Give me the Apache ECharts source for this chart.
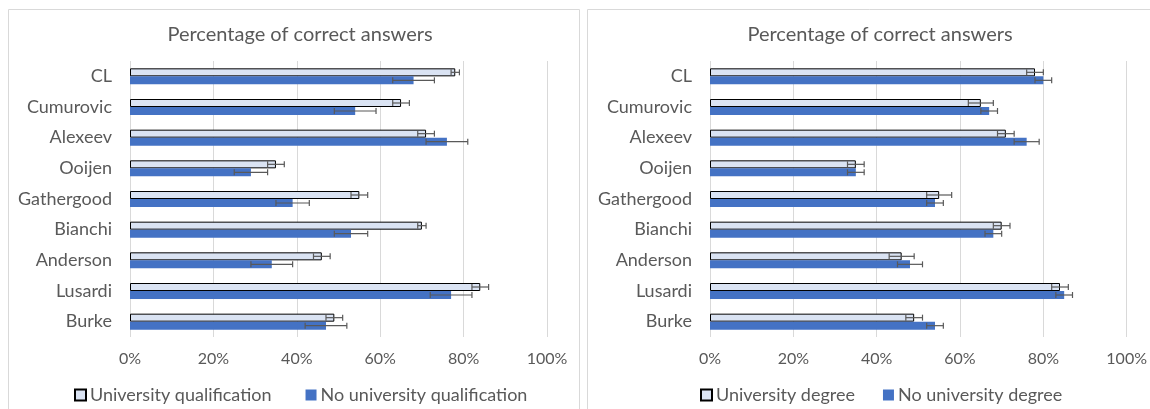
<!DOCTYPE html>
<html><head><meta charset="utf-8">
<script src="https://cdn.jsdelivr.net/npm/echarts@6/dist/echarts.min.js"></script>
<style>html,body{margin:0;padding:0;background:#fff}#c{width:1150px;height:409px}</style>
</head><body><div id="c"></div>
<script>
const categories = ['CL','Cumurovic','Alexeev','Ooijen','Gathergood','Bianchi','Anderson','Lusardi','Burke'];
const xTicks = [0,20,40,60,80,100];
const leftUni = [78,65,71,35,55,70,46,84,49];
const leftUniErr = [1,2,2,2,2,1,2,2,2];
const leftNoUni = [68,54,76,29,39,53,34,77,47];
const leftNoUniErr = [5,5,5,4,4,4,5,5,5];
const rightDeg = [78,65,71,35,55,70,46,84,49];
const rightDegErr = [2,3,2,2,3,2,3,2,2];
const rightNoDeg = [80,67,76,35,54,68,48,85,54];
const rightNoDegErr = [2,2,3,2,2,2,3,2,2];

const FONT = 'Lato';
const TXT = '#595959';
const BW = 8;

function errSeries(vals, errs, gi, offset) {
  return {
    type: 'custom', xAxisIndex: gi, yAxisIndex: gi, silent: true, z: 5,
    data: vals.map((v, i) => [v - errs[i], v + errs[i], i]),
    renderItem: function (params, api) {
      const lo = api.coord([api.value(0), api.value(2)]);
      const hi = api.coord([api.value(1), api.value(2)]);
      const y = lo[1] + offset;
      const st = { stroke: '#595959', lineWidth: 1.2 };
      return { type: 'group', children: [
        { type: 'line', shape: { x1: lo[0], y1: y, x2: hi[0], y2: y }, style: st },
        { type: 'line', shape: { x1: lo[0], y1: y - 3, x2: lo[0], y2: y + 3 }, style: st },
        { type: 'line', shape: { x1: hi[0], y1: y - 3, x2: hi[0], y2: y + 3 }, style: st }
      ]};
    }
  };
}

function xAxis(gi) {
  return {
    gridIndex: gi, type: 'value', min: 0, max: 100, interval: 20,
    axisLine: { show: false }, axisTick: { show: false },
    splitLine: { show: true, lineStyle: { color: '#d9d9d9', width: 1 } },
    axisLabel: { formatter: v => xTicks.includes(v) ? v + '%' : '', color: TXT, fontFamily: FONT, fontSize: 16, margin: 14 }
  };
}
function yAxis(gi) {
  return {
    gridIndex: gi, type: 'category', data: categories, inverse: true,
    axisLine: { show: false }, axisTick: { show: false }, splitLine: { show: false },
    axisLabel: { color: TXT, fontFamily: FONT, fontSize: 18, margin: 18 }
  };
}
function barSeries(name, vals, gi, light) {
  return {
    type: 'bar', name: name, xAxisIndex: gi, yAxisIndex: gi, data: vals,
    barWidth: BW, barGap: '0%',
    itemStyle: light ? { color: '#DAE3F3', borderColor: '#000', borderWidth: 1 } : { color: '#4472C4' }
  };
}

const chart = echarts.init(document.getElementById('c'), null, { renderer: 'canvas' });
chart.setOption({
  animation: false,
  graphic: [
    { type: 'rect', shape: { x: 8.5, y: 9.5, width: 571, height: 420 }, style: { fill: 'none', stroke: '#d9d9d9', lineWidth: 1 } },
    { type: 'rect', shape: { x: 587.5, y: 9.5, width: 580, height: 420 }, style: { fill: 'none', stroke: '#d9d9d9', lineWidth: 1 } }
  ],
  title: [
    { text: 'Percentage of correct answers', left: 295, top: 20, textAlign: 'center', textStyle: { color: TXT, fontFamily: FONT, fontSize: 20, fontWeight: 'normal' } },
    { text: 'Percentage of correct answers', left: 875, top: 20, textAlign: 'center', textStyle: { color: TXT, fontFamily: FONT, fontSize: 20, fontWeight: 'normal' } }
  ],
  legend: [
    { left: 69, top: 381, itemWidth: 11, itemHeight: 11, itemGap: 34, icon: 'rect',
      data: ['University qualification', 'No university qualification'],
      textStyle: { color: TXT, fontFamily: FONT, fontSize: 18, padding: [0, 0, 0, -1] } },
    { left: 695, top: 381, itemWidth: 11, itemHeight: 11, itemGap: 28, icon: 'rect',
      data: ['University degree', 'No university degree'],
      textStyle: { color: TXT, fontFamily: FONT, fontSize: 18, padding: [0, 0, 0, -1] } }
  ],
  grid: [
    { left: 130, top: 61, width: 417, height: 276 },
    { left: 710, top: 61, width: 417, height: 276 }
  ],
  xAxis: [xAxis(0), xAxis(1)],
  yAxis: [yAxis(0), yAxis(1)],
  series: [
    barSeries('University qualification', leftUni, 0, true),
    barSeries('No university qualification', leftNoUni, 0, false),
    barSeries('University degree', rightDeg, 1, true),
    barSeries('No university degree', rightNoDeg, 1, false),
    errSeries(leftUni, leftUniErr, 0, -BW / 2),
    errSeries(leftNoUni, leftNoUniErr, 0, BW / 2),
    errSeries(rightDeg, rightDegErr, 1, -BW / 2),
    errSeries(rightNoDeg, rightNoDegErr, 1, BW / 2)
  ]
});
</script></body></html>
